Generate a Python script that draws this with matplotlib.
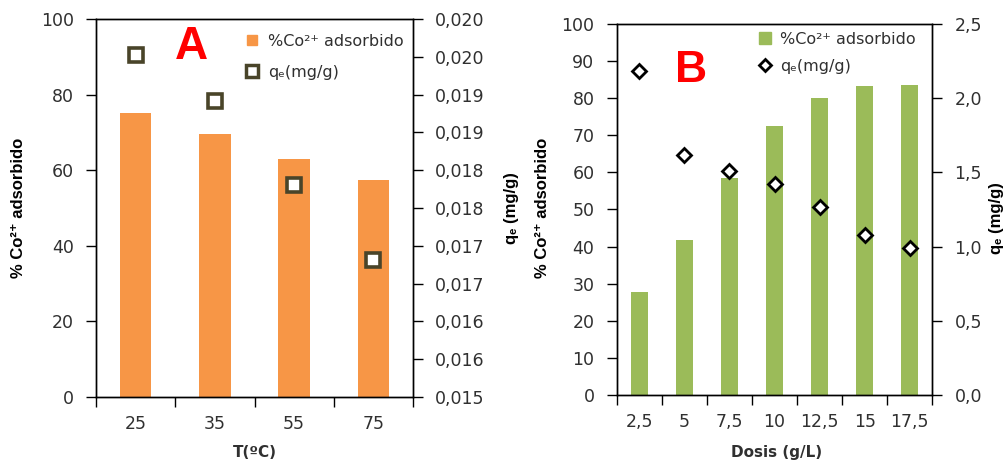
import matplotlib
matplotlib.use("Agg")
import matplotlib.pyplot as plt
from matplotlib.lines import Line2D
from matplotlib.ticker import FixedLocator, FixedFormatter, MultipleLocator, FuncFormatter

# ---- data -------------------------------------------------------------
temp_labels = ["25", "35", "55", "75"]
pct_temp = [75.0, 69.6, 62.9, 57.3]
qe_temp = [0.01952, 0.01892, 0.01781, 0.01681]
qe_temp_ticks = [0.0150, 0.0155, 0.0160, 0.0165, 0.0170, 0.0175,
                 0.0180, 0.0185, 0.0190, 0.0195, 0.0200]
qe_temp_ticklabels = ["0,015", "0,016", "0,016", "0,017", "0,017", "0,018",
                      "0,018", "0,019", "0,019", "0,020", "0,020"]

dose_labels = ["2,5", "5", "7,5", "10", "12,5", "15", "17,5"]
pct_dose = [27.7, 41.8, 58.6, 72.6, 80.1, 83.3, 83.6]
qe_dose = [2.18, 1.62, 1.51, 1.42, 1.27, 1.08, 0.99]

# ---- styles -----------------------------------------------------------
ORANGE = "#F79646"
GREEN = "#9BBB59"
OLIVE = "#494429"
TXT = "#303030"
TICK_FS = 12.5
LEG_FS = 11.5
LAB_FAM = ["Liberation Sans", "DejaVu Sans"]

plt.rcParams["font.family"] = ["DejaVu Sans"]

fig = plt.figure(figsize=(10.05, 4.65), dpi=100)
W, H = 1005, 465


def make_axes(left, top, right, bottom):
    return fig.add_axes([left / W, 1 - bottom / H, (right - left) / W, (bottom - top) / H])


def style_axes(ax, ax2, labels):
    n = len(labels)
    ax.set_xlim(-0.5, n - 0.5)
    # category boundaries carry the ticks, centres carry the labels
    ax.xaxis.set_major_locator(FixedLocator([i - 0.5 for i in range(n + 1)]))
    ax.xaxis.set_major_formatter(FixedFormatter([""] * (n + 1)))
    ax.xaxis.set_minor_locator(FixedLocator(list(range(n))))
    ax.xaxis.set_minor_formatter(FixedFormatter(labels))
    ax.tick_params(axis="x", which="major", direction="out", length=7, width=1, color="black")
    ax.tick_params(axis="x", which="minor", length=0, pad=13, labelsize=TICK_FS, labelcolor=TXT)
    ax.tick_params(axis="y", direction="out", length=7, width=1, pad=9,
                   labelsize=TICK_FS, labelcolor=TXT)
    ax2.tick_params(axis="y", direction="out", length=7, width=1, pad=9,
                    labelsize=TICK_FS, labelcolor=TXT)
    for a in (ax, ax2):
        for s in a.spines.values():
            s.set_linewidth(1.0)
            s.set_color("black")


# ---- panel A: temperature ---------------------------------------------
axA = make_axes(96, 19, 413, 397)
xA = list(range(len(temp_labels)))
axA.bar(xA, pct_temp, width=0.40, color=ORANGE, zorder=2)
axA.set_ylim(0, 100)
axA.yaxis.set_major_locator(MultipleLocator(20))

axA2 = axA.twinx()
axA2.plot(xA, qe_temp, linestyle="none", marker="s", markersize=10,
          markerfacecolor="white", markeredgecolor=OLIVE, markeredgewidth=2.6, zorder=3)
axA2.set_ylim(0.015, 0.020)
axA2.yaxis.set_major_locator(FixedLocator(qe_temp_ticks))
axA2.yaxis.set_major_formatter(FixedFormatter(qe_temp_ticklabels))
style_axes(axA, axA2, temp_labels)

axA.set_ylabel("% Co²⁺ adsorbido", family=LAB_FAM, fontweight="bold", fontsize=12,
               va="center", ha="center")
axA.yaxis.set_label_coords(-0.246, 0.5)
axA2.set_ylabel("qₑ (mg/g)", family=LAB_FAM, fontweight="bold", fontsize=12,
                va="center", ha="center", rotation=90)
axA2.yaxis.set_label_coords(1.312, 0.5)
axA.set_xlabel("T(ºC)", fontweight="bold", fontsize=11, color=TXT, va="center")
axA.xaxis.set_label_coords(0.5, -0.148)

axA.text(0.30, 0.925, "A", transform=axA.transAxes, color="#FF0000", fontsize=33,
         fontweight="bold", family=LAB_FAM, ha="center", va="center")

handlesA = [Line2D([], [], linestyle="none", marker="s", markersize=7.5,
                   markerfacecolor=ORANGE, markeredgecolor=ORANGE),
            Line2D([], [], linestyle="none", marker="s", markersize=8.5,
                   markerfacecolor="white", markeredgecolor=OLIVE, markeredgewidth=2.5)]
axA2.legend(handlesA, ["%Co²⁺ adsorbido", "qₑ(mg/g)"], loc="upper left",
            bbox_to_anchor=((244 - 96) / 317, (397 - 34) / 378), frameon=False,
            fontsize=LEG_FS, handlelength=1.0, handletextpad=0.5, labelspacing=1.0,
            borderpad=0, borderaxespad=0, labelcolor=TXT)

# ---- panel B: dose ------------------------------------------------------
axB = make_axes(616.7, 24, 932.3, 395)
xB = list(range(len(dose_labels)))
axB.bar(xB, pct_dose, width=0.38, color=GREEN, zorder=2)
axB.set_ylim(0, 100)
axB.yaxis.set_major_locator(MultipleLocator(10))

axB2 = axB.twinx()
axB2.plot(xB, qe_dose, linestyle="none", marker="D", markersize=7.5,
          markerfacecolor="white", markeredgecolor="black", markeredgewidth=2.0, zorder=3)
axB2.set_ylim(0, 2.5)
axB2.yaxis.set_major_locator(MultipleLocator(0.5))
axB2.yaxis.set_major_formatter(FuncFormatter(lambda v, p: f"{v:.1f}".replace(".", ",")))
style_axes(axB, axB2, dose_labels)

axB.set_ylabel("% Co²⁺ adsorbido", family=LAB_FAM, fontweight="bold", fontsize=12,
               va="center", ha="center")
axB.yaxis.set_label_coords(-0.234, 0.504)
axB2.set_ylabel("qₑ (mg/g)", family=LAB_FAM, fontweight="bold", fontsize=12,
                va="center", ha="center", rotation=90)
axB2.yaxis.set_label_coords(1.205, 0.477)
axB.set_xlabel("Dosis (g/L)", fontweight="bold", fontsize=11, color=TXT, va="center")
axB.xaxis.set_label_coords(0.505, -0.154)

axB.text((691 - 616.7) / 315.6, (395 - 71) / 371, "B", transform=axB.transAxes,
         color="#FF0000", fontsize=32, fontweight="bold", family=LAB_FAM,
         ha="center", va="center")

handlesB = [Line2D([], [], linestyle="none", marker="s", markersize=8,
                   markerfacecolor=GREEN, markeredgecolor=GREEN),
            Line2D([], [], linestyle="none", marker="D", markersize=6.5,
                   markerfacecolor="white", markeredgecolor="black", markeredgewidth=2.0)]
axB2.legend(handlesB, ["%Co²⁺ adsorbido", "qₑ(mg/g)"], loc="upper left",
            bbox_to_anchor=((757 - 616.7) / 315.6, (395 - 32) / 371), frameon=False,
            fontsize=LEG_FS, handlelength=1.0, handletextpad=0.45, labelspacing=0.75,
            borderpad=0, borderaxespad=0, labelcolor=TXT)

fig.savefig("out.png", dpi=100)
